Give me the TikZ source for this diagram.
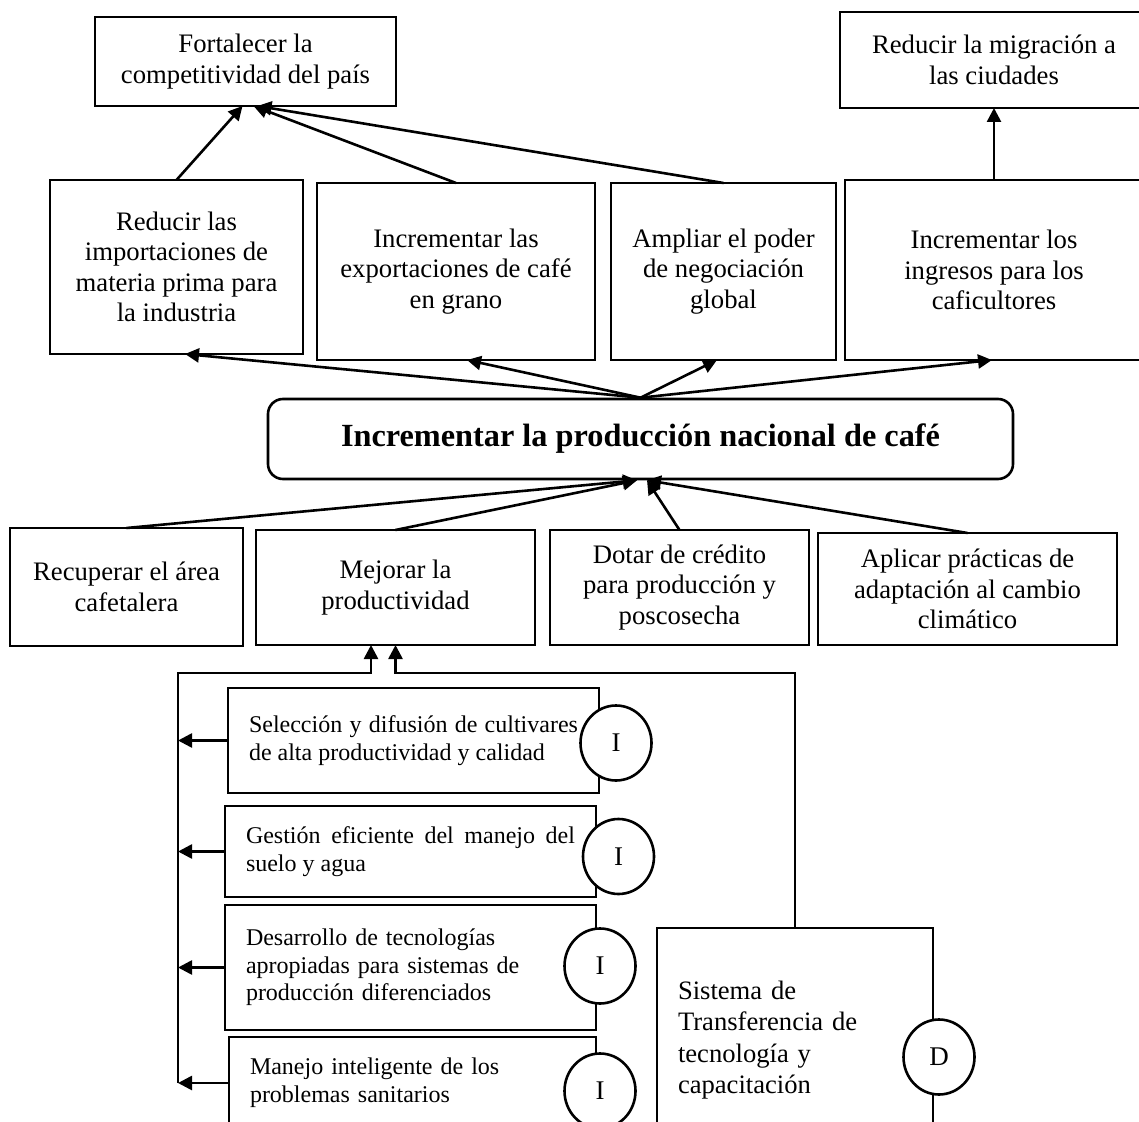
\documentclass[tikz,border=0pt]{standalone}
\usepackage{fontspec}
\setmainfont{Liberation Serif}
\usetikzlibrary{arrows.meta,shapes.geometric}
\begin{document}
\begin{tikzpicture}[x=0.5pt,y=-0.5pt,line width=1.3pt,
  label text/.style={rectangle,inner sep=0pt,outer sep=0pt,align=center,
    font=\fontsize{13.35}{15.2}\selectfont},
  box/.style={label text,draw},
  core/.style={draw,rectangle,rounded corners=7.5pt,inner sep=0pt,align=center,
    font=\bfseries\fontsize{16.15}{19}\selectfont},
  ibox/.style={draw,rectangle,inner xsep=10.5pt,inner ysep=0pt,text width=164.5pt,
    font=\fontsize{12}{13.8}\selectfont},
  tag/.style={draw,ellipse,fill=white,inner sep=0pt,minimum width=35.5pt,
    minimum height=37.5pt,font=\fontsize{13.5}{15}\selectfont},
  arr/.style={-{Triangle[length=7pt,width=7pt]}}]

% page area
\path[fill=white] (0,0) rectangle (1139,1122);
\clip (0,0) rectangle (1139,1122);

% upper goals
\node[box,minimum width=150.5pt,minimum height=44.5pt] (fort) at (245.5,61.5)
  {Fortalecer la\\competitividad del país};
\node[label text,minimum width=154pt,minimum height=48pt] (migr) at (994,60)
  {Reducir la migración a\\las ciudades};
\draw ([xshift=12pt]migr.north east) -- (migr.north west) -- (migr.south west)
  -- ([xshift=12pt]migr.south east);

% effects
\node[box,minimum width=126.5pt,minimum height=87pt] (redimp) at (176.5,267)
  {Reducir las\\importaciones de\\materia prima para\\la industria};
\node[box,minimum width=139pt,minimum height=88.5pt] (export) at (456,271.5)
  {Incrementar las\\exportaciones de café\\en grano};
\node[box,minimum width=112.5pt,minimum height=88.5pt] (ampl) at (723.5,271.5)
  {Ampliar el poder\\de negociación\\global};
\node[label text,minimum width=149pt,minimum height=90pt] (ingr) at (994,270)
  {Incrementar los\\ingresos para los\\caficultores};
\draw ([xshift=12pt]ingr.north east) -- (ingr.north west) -- (ingr.south west)
  -- ([xshift=12pt]ingr.south east);

% central objective
\node[core,minimum width=372.5pt,minimum height=40pt] (central) at (640.5,439)
  {Incrementar la producción nacional de café};

% means
\node[box,minimum width=116.5pt,minimum height=59pt] (recup) at (126.5,587)
  {Recuperar el área\\cafetalera};
\node[box,minimum width=139.5pt,minimum height=57.5pt] (mejor) at (395.5,587.5)
  {Mejorar la\\productividad};
\node[box,minimum width=129.5pt,minimum height=57.5pt] (dotar) at (679.5,587.5)
  {Dotar de crédito\\para producción y\\poscosecha};
\node[box,minimum width=149.5pt,minimum height=56pt] (aplic) at (967.5,589)
  {Aplicar prácticas de\\adaptación al cambio\\climático};

% actions
\node[ibox,align=justify,minimum height=52.5pt] (sel) at (413.5,740.5)
  {Selección y difusión de cultivares\linebreak de alta productividad y calidad};
\node[ibox,align=justify,minimum height=45.5pt] (gest) at (410.5,851.5)
  {Gestión eficiente del manejo del\linebreak suelo y agua};
\node[ibox,minimum height=62.5pt] (desa) at (410.5,967.5)
  {\raggedright Desarrollo de tecnologías\\apropiadas para sistemas de\\producción diferenciados};
\node[ibox,text width=162.5pt,minimum height=46pt] (manj) at (412.5,1083)
  {\raggedright Manejo inteligente de los\\problemas sanitarios};
\node[ibox,text width=117pt,minimum height=112pt,
  font=\fontsize{13.3}{15.75}\selectfont] (sist) at (795,1040)
  {\raggedright Sistema de\\Transferencia de\\tecnología y\\capacitación};

% markers
\node[tag] (t1) at (616,743) {I};
\node[tag] (t2) at (618.5,856.5) {I};
\node[tag] (t3) at (600,966) {I};
\node[tag] (t4) at (600,1091) {I};
\node[tag] (tD) at (939,1057) {D};

% effects to goals
\draw[arr] (redimp.north) -- ([xshift=-1.5pt]fort.south);
\draw[arr] (export.north) -- ([xshift=4pt]fort.south);
\draw[arr] (ampl.north) -- ([xshift=6pt]fort.south);
\draw[arr] (ingr.north) -- (migr.south);

% objective to effects
\draw[arr] (central.north) -- ([xshift=4.25pt]redimp.south);
\draw[arr] (central.north) -- ([xshift=5.5pt]export.south);
\draw[arr] (central.north) -- ([xshift=-3.25pt]ampl.south);
\draw[arr] (central.north) -- ([xshift=-1pt]ingr.south);

% means to objective
\draw[arr] (recup.north) -- ([xshift=-1.75pt]central.south);
\draw[arr] (mejor.north) -- ([xshift=-1.75pt]central.south);
\draw[arr] (dotar.north) -- ([xshift=3.25pt]central.south);
\draw[arr] (aplic.north) -- ([xshift=3.25pt]central.south);

% actions to productivity
\coordinate (busT) at (178,673);
\coordinate (busB) at (178,1083);
\draw[arr] (busB) -- (busT) -| ([xshift=-12.25pt]mejor.south);
\draw[arr] (sist.north) -- (sist.north |- busT) -| (mejor.south);
\draw[arr] (sel.west) -- (sel.west -| busT);
\draw[arr] (gest.west) -- (gest.west -| busT);
\draw[arr] (desa.west) -- (desa.west -| busT);
\draw[arr] (manj.west) -- (manj.west -| busT);
\end{tikzpicture}
\end{document}
